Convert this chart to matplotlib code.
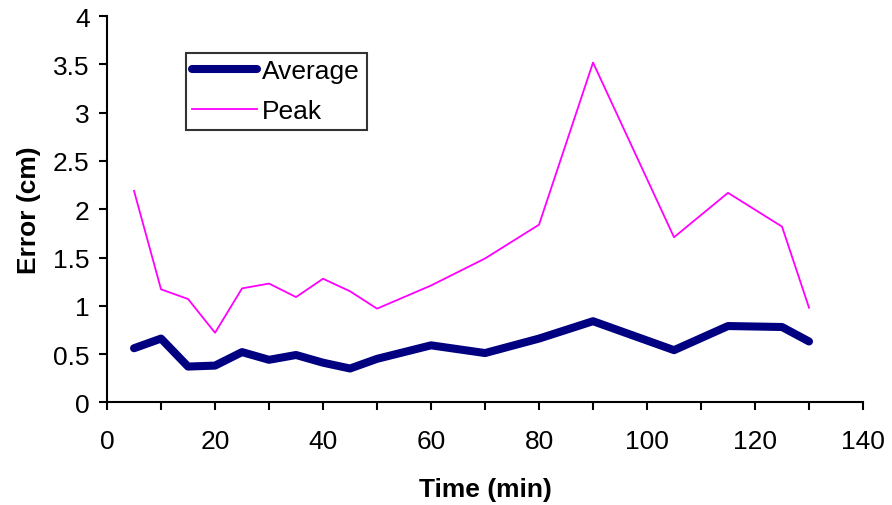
import matplotlib
matplotlib.use('Agg')
import matplotlib.pyplot as plt
from matplotlib.ticker import MultipleLocator

plt.rcParams['font.family'] = ['Liberation Sans', 'DejaVu Sans']

# error over time, sampled every 5-15 minutes
time_min = [5, 10, 15, 20, 25, 30, 35, 40, 45, 50, 60, 70, 80, 90, 105, 115, 125, 130]
average = [0.56, 0.66, 0.37, 0.38, 0.52, 0.44, 0.49, 0.41, 0.35, 0.45,
           0.59, 0.51, 0.66, 0.84, 0.54, 0.79, 0.78, 0.63]
peak = [2.19, 1.17, 1.07, 0.72, 1.18, 1.23, 1.09, 1.28, 1.15, 0.97,
        1.21, 1.49, 1.84, 3.52, 1.71, 2.17, 1.82, 0.98]

fig = plt.figure(figsize=(8.92, 5.06), dpi=100)
ax = fig.add_axes([0.12, 0.203, 0.8475, 0.763])

ax.plot(time_min, average, color='#000080', linewidth=5.8, label='Average',
        solid_capstyle='round', solid_joinstyle='round')
ax.plot(time_min, peak, color='#FF00FF', linewidth=1.3, label='Peak')

ax.set_xlim(0, 140)
ax.set_ylim(0, 4)
ax.xaxis.set_major_locator(MultipleLocator(20))
ax.xaxis.set_minor_locator(MultipleLocator(10))
ax.yaxis.set_major_locator(MultipleLocator(0.5))
ax.yaxis.set_major_formatter(plt.FuncFormatter(lambda v, p: f'{v:g}'))

for side in ('top', 'right'):
    ax.spines[side].set_visible(False)
for side in ('left', 'bottom'):
    ax.spines[side].set_linewidth(1.5)
ax.tick_params(axis='both', which='both', direction='out', length=5.5, width=1.5,
               labelsize=19)
ax.tick_params(axis='x', pad=14)
ax.tick_params(axis='y', pad=7)

ax.set_xlabel('Time (min)', fontsize=19, fontweight='bold', labelpad=17)
ax.set_ylabel('Error (cm)', fontsize=19, fontweight='bold', labelpad=9)

leg = ax.legend(loc='upper left', bbox_to_anchor=(0.104, 0.905), fontsize=19,
                frameon=True, fancybox=False, handlelength=2.45,
                handletextpad=0.2, borderpad=0.25, labelspacing=0.6,
                borderaxespad=0)
leg.get_frame().set_edgecolor('black')
leg.get_frame().set_linewidth(1.5)

fig.savefig('out.png', dpi=100)
